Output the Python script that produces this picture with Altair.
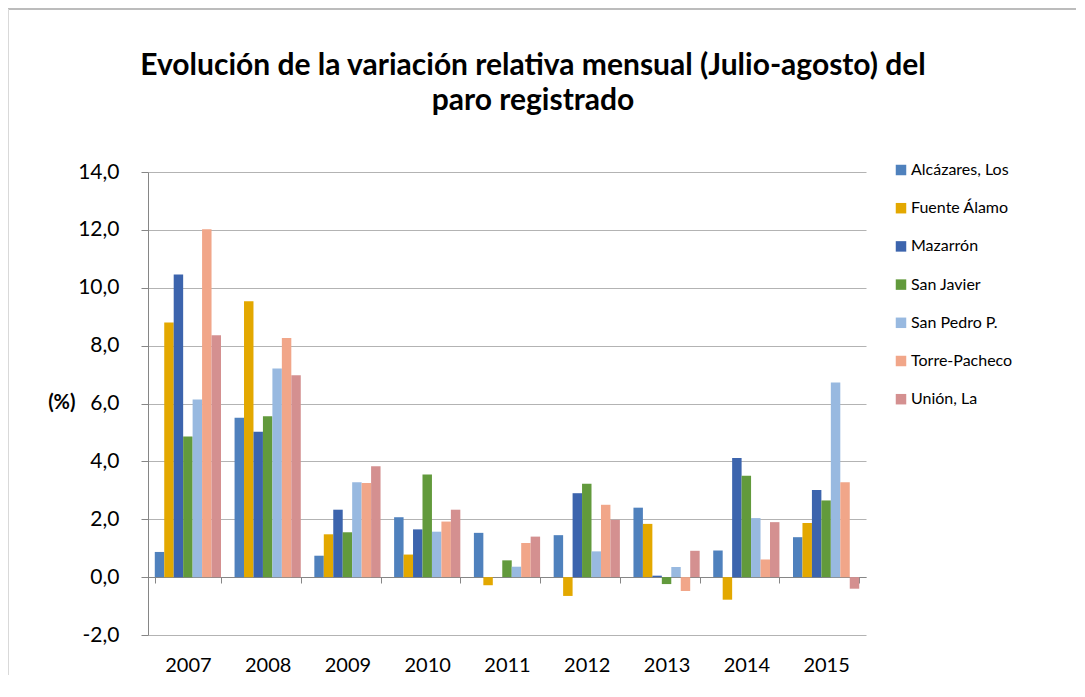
import altair as alt
import pandas as pd

years = ["2007", "2008", "2009", "2010", "2011", "2012", "2013", "2014", "2015"]
series = ["Alcázares, Los", "Fuente Álamo", "Mazarrón", "San Javier",
          "San Pedro P.", "Torre-Pacheco", "Unión, La"]
alcazares = [0.87, 5.51, 0.74, 2.07, 1.53, 1.45, 2.40, 0.92, 1.38]
fuente_alamo = [8.80, 9.53, 1.48, 0.78, -0.28, -0.65, 1.84, -0.78, 1.87]
mazarron = [10.46, 5.02, 2.33, 1.65, 0.0, 2.90, 0.05, 4.12, 3.01]
san_javier = [4.86, 5.56, 1.55, 3.55, 0.58, 3.23, -0.24, 3.50, 2.65]
san_pedro = [6.14, 7.21, 3.28, 1.57, 0.36, 0.89, 0.35, 2.04, 6.73]
torre_pacheco = [12.02, 8.26, 3.25, 1.92, 1.18, 2.50, -0.48, 0.61, 3.28]
union_la = [8.36, 6.98, 3.83, 2.33, 1.40, 1.98, 0.91, 1.90, -0.40]
colors = ["#4F81BD", "#E3A800", "#3C64AD", "#629A3C", "#98B9E0", "#F1A689", "#D49090"]
title_lines = ["Evolución de la variación relativa mensual (Julio-agosto) del",
               "paro registrado"]

values = [alcazares, fuente_alamo, mazarron, san_javier, san_pedro, torre_pacheco, union_la]
rows = []
for s, vals in zip(series, values):
    for y, v in zip(years, vals):
        rows.append({"year": y, "serie": s, "valor": v})
df = pd.DataFrame(rows)

FONT = "Lato"

bars = alt.Chart(df).mark_bar().encode(
    x=alt.X("year:N", sort=years, title=None,
            scale=alt.Scale(paddingInner=0.17, paddingOuter=0.085),
            axis=alt.Axis(offset=-58, domain=True, domainColor="#868686",
                          ticks=True, tickBand="extent", tickSize=6, tickColor="#868686",
                          labelPadding=72, labelAngle=0, labelFontSize=20,
                          labelFont=FONT, labelColor="#000000", grid=False)),
    xOffset=alt.XOffset("serie:N", sort=series),
    y=alt.Y("valor:Q", scale=alt.Scale(domain=[-2, 14], nice=False),
            axis=alt.Axis(values=[-2, 0, 2, 4, 6, 8, 10, 12, 14],
                          labelExpr="replace(replace(format(datum.value, '.1f'), '.', ','), '\u2212', '-')",
                          labelFontSize=21, labelFont=FONT, labelColor="#000000",
                          labelPadding=22, tickSize=7, tickColor="#868686",
                          domainColor="#868686", gridColor="#B3B3B3",
                          title="(%)", titleAngle=0, titleFont=FONT, titleFontSize=20,
                          titleFontWeight="bold", titleAlign="right", titleBaseline="middle",
                          titleX=-73, titleY=230, titleColor="#000000")),
    color=alt.Color("serie:N", sort=series,
                    scale=alt.Scale(domain=series, range=colors),
                    legend=alt.Legend(title=None, orient="none", legendX=745, legendY=-10,
                                      symbolType="square", symbolSize=110,
                                      symbolStrokeWidth=0, labelFont=FONT,
                                      labelFontSize=16, labelColor="#000000",
                                      rowPadding=22.2, padding=0, labelOffset=2)),
)

title1 = alt.Chart().mark_text(font=FONT, fontSize=30, fontWeight="bold", color="#000000",
                               align="center", baseline="middle").encode(
    x=alt.value(385), y=alt.value(-106), text=alt.datum(title_lines[0]))
title2 = alt.Chart().mark_text(font=FONT, fontSize=30, fontWeight="bold", color="#000000",
                               align="center", baseline="middle").encode(
    x=alt.value(385), y=alt.value(-71), text=alt.datum(title_lines[1]))

top_border = alt.Chart().mark_rule(color="#A6A6A6", strokeWidth=1.5).encode(
    x=alt.value(-140), x2=alt.value(937), y=alt.value(-163))
left_border = alt.Chart().mark_rule(color="#D9D9D9", strokeWidth=2).encode(
    x=alt.value(-140), y=alt.value(-163), y2=alt.value(530))

chart = alt.layer(bars, title1, title2, top_border, left_border).properties(
    width=718, height=463,
    padding={"left": 140, "top": 164, "right": 210, "bottom": 40},
    autosize=alt.AutoSizeParams(type="none"),
).configure_view(stroke=None)

chart.save("out.html", embed_options={"renderer": "svg", "actions": False})
